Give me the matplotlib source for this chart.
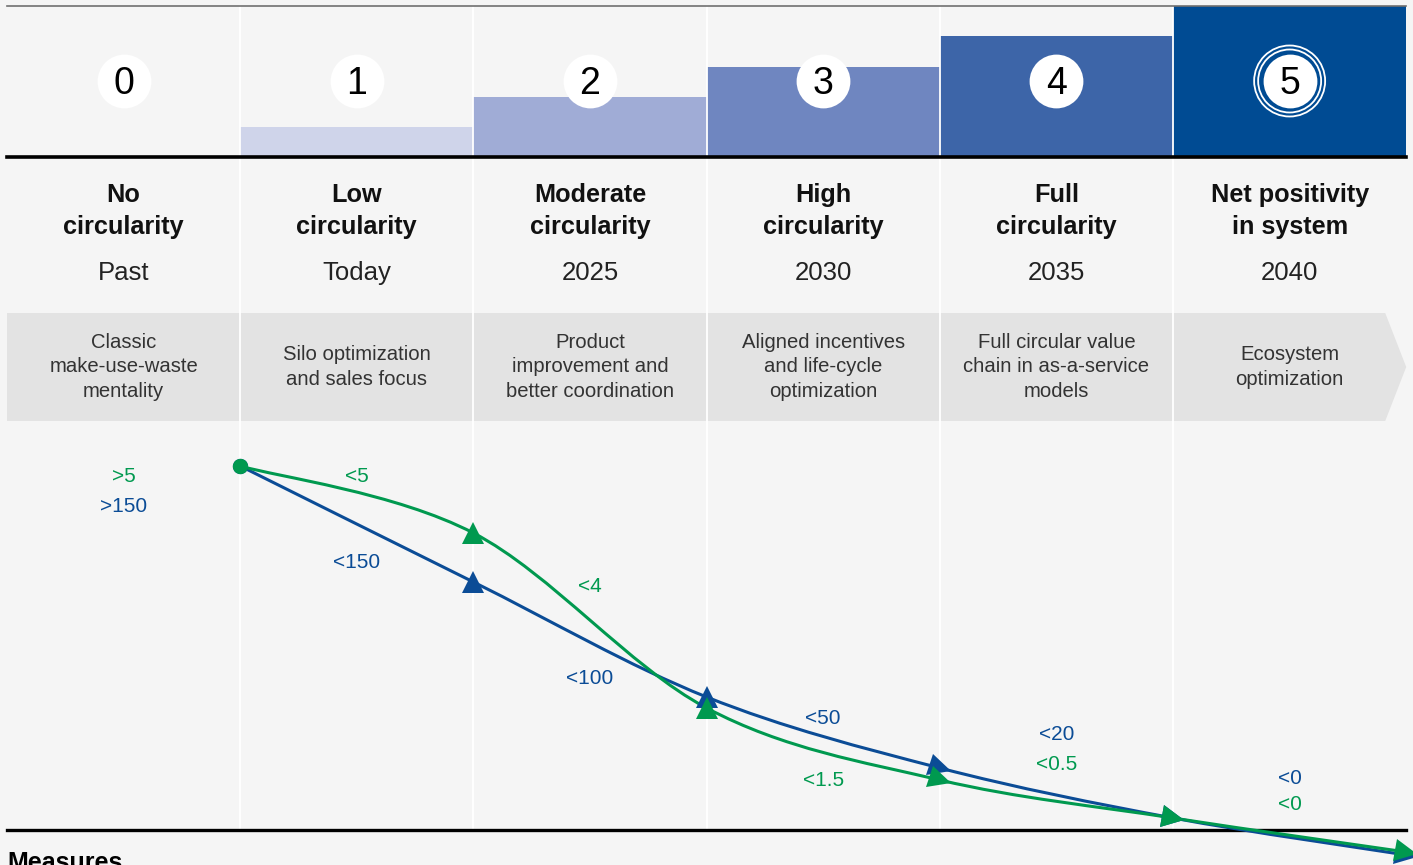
import numpy as np
import matplotlib.pyplot as plt
from matplotlib.path import Path
from matplotlib.patches import PathPatch, Polygon, Rectangle
from matplotlib.markers import MarkerStyle
from matplotlib.transforms import Affine2D

plt.rcParams['font.family'] = ['Liberation Sans', 'DejaVu Sans']

# stage data
stages = [0, 1, 2, 3, 4, 5]
level_heights = [0, 30, 60, 90, 121, 151]
titles = ['No\ncircularity', 'Low\ncircularity', 'Moderate\ncircularity',
          'High\ncircularity', 'Full\ncircularity', 'Net positivity\nin system']
years = ['Past', 'Today', '2025', '2030', '2035', '2040']
descriptions = ['Classic\nmake-use-waste\nmentality', 'Silo optimization\nand sales focus',
                'Product\nimprovement and\nbetter coordination',
                'Aligned incentives\nand life-cycle\noptimization',
                'Full circular value\nchain in as-a-service\nmodels', 'Ecosystem\noptimization']
bar_colors = ['#f5f5f5', '#cfd4ea', '#a0acd6', '#6f86c0', '#3d65a8', '#004b93']

# the two measures (schematic level above baseline)
line_x = [0.5, 1.5, 2.5, 3.5, 4.5, 5.5]
blue_level = [364, 248, 133, 62, 12, -25]
green_level = [364, 297, 122, 50, 12, -22]
blue_labels = ['>150', '<150', '<100', '<50', '<20', '<0']
green_labels = ['>5', '<5', '<4', '<1.5', '<0.5', '<0']
blue_label_y = [324, 268, 152, 112, 95, 52]
green_label_y = [354, 354, 243, 49, 65, 26]

BLUE = '#0b4c96'
GREEN = '#00994f'
BG = '#f5f5f5'

fig = plt.figure(figsize=(14.13, 8.65), dpi=100, facecolor=BG)
ax = fig.add_axes([0, 0, 1, 1])
ax.set_facecolor(BG)
ax.set_xlim(-0.530, 5.529)
ax.set_ylim(-35, 830)
ax.axis('off')

# header bars
ax.bar(stages, level_heights, bottom=673, width=1.0, color=bar_colors, zorder=1)

# grey band with chevron at the end
for i in stages[:-1]:
    ax.add_patch(Rectangle((i - 0.5, 409), 1.0, 108, color='#e3e3e3', lw=0, zorder=1))
ax.add_patch(Polygon([(4.5, 409), (5.41, 409), (5.5, 463), (5.41, 517), (4.5, 517)],
                     closed=True, color='#e3e3e3', lw=0, zorder=1))

# column separators
for xs in [0.5, 1.5, 2.5, 3.5, 4.5]:
    ax.plot([xs, xs], [0, 824], color='white', lw=1.3, zorder=2)

# horizontal rules
ax.plot([-0.5, 5.5], [824, 824], color='#707070', lw=1.2, zorder=3)
ax.plot([-0.5, 5.5], [673, 673], color='black', lw=2.6, zorder=3)
ax.plot([-0.5, 5.5], [0, 0], color='black', lw=2.4, zorder=3)

# numbered circles
ax.scatter(stages, [749] * 6, s=1500, color='white', zorder=4, lw=0)
ax.scatter([5], [749], s=(2 * 31.5 * 0.72) ** 2, facecolor='none', edgecolor='white', lw=1.3, zorder=4)
ax.scatter([5], [749], s=(2 * 35.5 * 0.72) ** 2, facecolor='none', edgecolor='white', lw=1.3, zorder=4)
for i in stages:
    ax.text(i, 736, str(i), ha='center', va='baseline', fontsize=27, color='black', zorder=5)

# titles, years, descriptions
for i in stages:
    ax.text(i, 619, titles[i], ha='center', va='center', fontsize=18.2, weight='bold',
            linespacing=1.42, color='#111111', zorder=5)
    ax.text(i, 557, years[i], ha='center', va='center', fontsize=18.5, color='#222222', zorder=5)
    ax.text(i, 463, descriptions[i], ha='center', va='center', fontsize=14.6,
            linespacing=1.38, color='#333333', zorder=5)


def smooth_path(xs, ys):
    pts = np.column_stack([xs, ys]).astype(float)
    verts = [pts[0]]
    codes = [Path.MOVETO]
    n = len(pts)
    for k in range(n - 1):
        p0 = pts[max(k - 1, 0)]
        p1 = pts[k]
        p2 = pts[k + 1]
        p3 = pts[min(k + 2, n - 1)]
        c1 = p1 + (p2 - p0) / 6.0
        c2 = p2 - (p3 - p1) / 6.0
        verts += [c1, c2, p2]
        codes += [Path.CURVE4] * 3
    return Path(verts, codes)


for lv, col, z in [(blue_level, BLUE, 6), (green_level, GREEN, 7)]:
    ax.add_patch(PathPatch(smooth_path(line_x, lv), facecolor='none', edgecolor=col,
                           lw=2.2, zorder=z, capstyle='round'))

fig.canvas.draw()
for lv, col, z in [(blue_level, BLUE, 8), (green_level, GREEN, 9)]:
    ax.plot([line_x[0]], [lv[0]], 'o', color=col, ms=10, zorder=z)
    for k in range(1, len(line_x)):
        if k <= 2:
            m = MarkerStyle('^')
        else:
            a = ax.transData.transform((line_x[k - 1], lv[k - 1]))
            b = ax.transData.transform((line_x[k], lv[k]))
            ang = np.degrees(np.arctan2(b[1] - a[1], b[0] - a[0]))
            m = MarkerStyle('>', transform=Affine2D().rotate_deg(ang))
        ax.plot([line_x[k]], [lv[k]], marker=m, color=col, ms=16, mew=0, zorder=z)

# value labels
for i in stages:
    ax.text(i, blue_label_y[i], blue_labels[i], ha='center', va='center', fontsize=15,
            color=BLUE, zorder=10)
    ax.text(i, green_label_y[i], green_labels[i], ha='center', va='center', fontsize=15,
            color=GREEN, zorder=10)

ax.text(-0.5, -21, 'Measures', ha='left', va='top', fontsize=18, weight='bold', color='black')

fig.savefig('out.png', dpi=100, facecolor=BG)
